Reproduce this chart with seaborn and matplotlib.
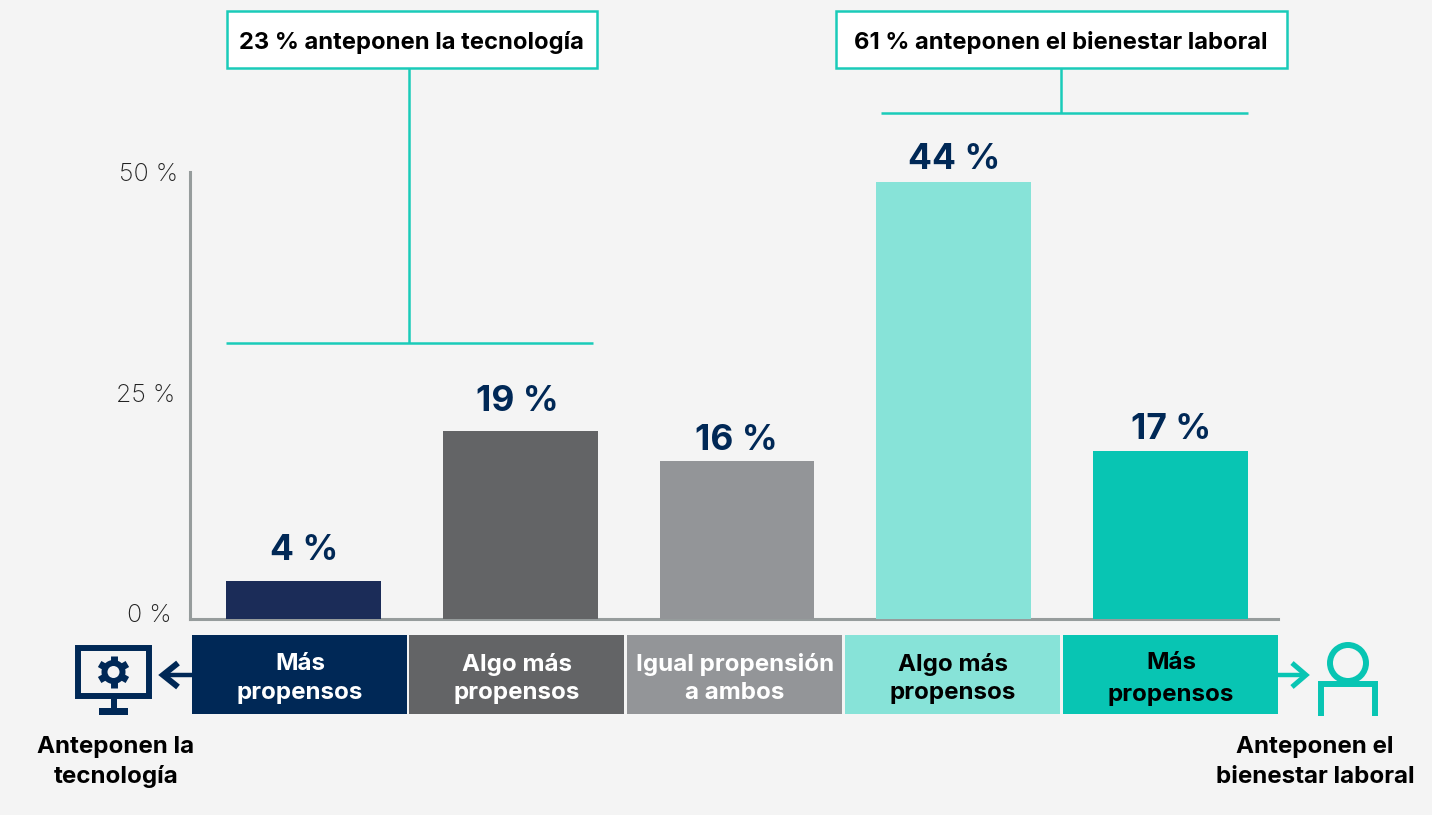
import numpy as np
import pandas as pd
import matplotlib
matplotlib.use("Agg")
import matplotlib.pyplot as plt
from matplotlib.patches import Rectangle, Circle
from matplotlib.transforms import ScaledTranslation
import seaborn as sns

categories = ["Más propensos (tecnología)", "Algo más propensos (tecnología)", "Igual propensión a ambos",
              "Algo más propensos (bienestar)", "Más propensos (bienestar)"]
bar_heights = [4.3, 21.0, 17.7, 48.9, 18.8]
printed_labels = ["4 %", "19 %", "16 %", "44 %", "17 %"]
bar_colors = ["#1B2C58", "#636466", "#939598", "#87E3D8", "#08C5B3"]
box_labels = ["Más\npropensos", "Algo más\npropensos", "Igual propensión\na ambos", "Algo más\npropensos", "Más\npropensos"]
box_colors = ["#002856", "#636466", "#939598", "#87E3D8", "#08C5B3"]
box_text_colors = ["white", "white", "white", "black", "black"]
y_ticks = [0, 25, 50]
y_tick_labels = ["0 %", "25 %", "50 %"]
callouts = ["23 % anteponen la tecnología", "61 % anteponen el bienestar laboral"]
end_labels = ["Anteponen la\ntecnología", "Anteponen el\nbienestar laboral"]

BG = "#F4F4F4"
TEAL = "#1ACBB9"
NAVY = "#002856"
ICON_TEAL = "#08C5B3"
AXIS = "#969C9C"
W, H = 1440, 815

sns.set_theme(style="white")
plt.rcParams["font.family"] = ["Inter", "DejaVu Sans"]

fig = plt.figure(figsize=(W / 100, H / 100), dpi=100, facecolor="white")

deco_bg = fig.add_axes([0, 0, 1, 1], zorder=0)
deco_bg.set_xlim(0, W); deco_bg.set_ylim(H, 0); deco_bg.axis("off")
deco_bg.add_patch(Rectangle((0, 0), 1432, H, fc=BG, ec="none"))

L, R, T, B = 190, 1278, 172, 619
ax = fig.add_axes([L / W, 1 - B / H, (R - L) / W, (B - T) / H], zorder=1)
ax.patch.set_alpha(0)
df = pd.DataFrame({"cat": categories, "val": bar_heights})
sns.barplot(data=df, x="cat", y="val", hue="cat", palette=bar_colors, legend=False,
            width=0.715, saturation=1, linewidth=0, ax=ax, zorder=3)
ax.set_xlim(-0.5236, 4.496)
ax.set_ylim(0, 50)
ax.set_xlabel(""); ax.set_ylabel("")
ax.set_xticks([])
ax.set_yticks(y_ticks)
ax.set_yticklabels(y_tick_labels, fontsize=18, color="#222222", fontweight="light")
ax.tick_params(axis="y", length=0, pad=13)
for t, (dx, dy) in zip(ax.get_yticklabels(), [(0, 6), (3, 2), (6, 0)]):
    t.set_transform(t.get_transform() + ScaledTranslation(dx / 100, dy / 100, fig.dpi_scale_trans))
for s in ["top", "right"]:
    ax.spines[s].set_visible(False)
for s in ["left", "bottom"]:
    ax.spines[s].set_color(AXIS)
    ax.spines[s].set_linewidth(2.2)
    ax.spines[s].set_zorder(2)
label_gaps = [10, 9.5, 2.7, 4.2, 3.7]
label_dx = [1, -3, -1, 0, 1]
for i, (h, lab, g, dx) in enumerate(zip(bar_heights, printed_labels, label_gaps, label_dx)):
    ax.annotate(lab, (i, h), xytext=(dx * 0.72, g), textcoords="offset points", ha="center", va="bottom",
                fontsize=25.5, fontweight="bold", color=NAVY)

ov = fig.add_axes([0, 0, 1, 1], zorder=2)
ov.set_xlim(0, W); ov.set_ylim(H, 0); ov.axis("off"); ov.patch.set_alpha(0)

box_x = [(192, 407), (409, 624), (627, 842), (845, 1060), (1063, 1278)]
text_y = [(664, 693), (664, 693), (664, 693), (664, 693), (663, 695)]
for (x0, x1), lab, c, tc, ty in zip(box_x, box_labels, box_colors, box_text_colors, text_y):
    ov.add_patch(Rectangle((x0, 635), x1 - x0, 79, fc=c, ec="none"))
    for part, yy in zip(lab.split("\n"), ty):
        ov.text((x0 + x1) / 2 + 0.5, yy, part, ha="center", va="center", fontsize=17.4, fontweight="bold", color=tc)

lw = 1.8
for (x0, x1), txt in zip([(227, 597), (836, 1287)], callouts):
    ov.add_patch(Rectangle((x0, 10.5), x1 - x0, 57.5, fc="white", ec=TEAL, lw=lw))
    ov.text((x0 + x1) / 2 - 0.5, 43, txt, ha="center", va="center", fontsize=17.1, fontweight="bold", color="black")
ov.plot([226, 593], [343, 343], color=TEAL, lw=lw, solid_capstyle="butt")
ov.plot([409, 409], [68, 343], color=TEAL, lw=lw, solid_capstyle="butt")
ov.plot([881, 1248], [113, 113], color=TEAL, lw=lw, solid_capstyle="butt")
ov.plot([1061, 1061], [68, 113], color=TEAL, lw=lw, solid_capstyle="butt")

ilw = 4.3
ov.add_patch(Rectangle((78, 648), 71, 48, fc="none", ec=NAVY, lw=ilw))
ov.add_patch(Rectangle((110.5, 699), 6, 10, fc=NAVY, ec="none"))
ov.add_patch(Rectangle((99, 708), 29, 7, fc=NAVY, ec="none"))
gc = (113.5, 672)
for a in np.deg2rad(np.arange(0, 360, 60) + 90):
    ov.plot([gc[0], gc[0] + 16 * np.cos(a)], [gc[1], gc[1] - 16 * np.sin(a)], color=NAVY, lw=5, solid_capstyle="butt")
ov.add_patch(Circle(gc, 12, fc=NAVY, ec="none", zorder=3))
ov.add_patch(Circle(gc, 6, fc=BG, ec="none", zorder=4))
ov.plot([192, 163], [675, 675], color=NAVY, lw=3.2, solid_capstyle="butt")
ov.plot([178, 163, 178], [663, 675, 687], color=NAVY, lw=ilw, solid_joinstyle="miter", solid_capstyle="butt")

ov.plot([1278, 1306], [675, 675], color=ICON_TEAL, lw=3.2, solid_capstyle="butt")
ov.plot([1292, 1306, 1292], [663, 675, 687], color=ICON_TEAL, lw=3.6, solid_joinstyle="miter", solid_capstyle="butt")
ov.add_patch(Circle((1348, 663), 18, fc="none", ec=ICON_TEAL, lw=ilw))
ov.plot([1321, 1321, 1375, 1375], [716, 684, 684, 716], color=ICON_TEAL, lw=ilw, solid_joinstyle="miter", solid_capstyle="butt")

for cx, lab in zip([116, 1315], end_labels):
    for part, yy in zip(lab.split("\n"), [747.5, 777]):
        ov.text(cx, yy, part, ha="center", va="center", fontsize=17.4, fontweight="bold", color="black")

fig.savefig("out.png", dpi=100, facecolor="white")
